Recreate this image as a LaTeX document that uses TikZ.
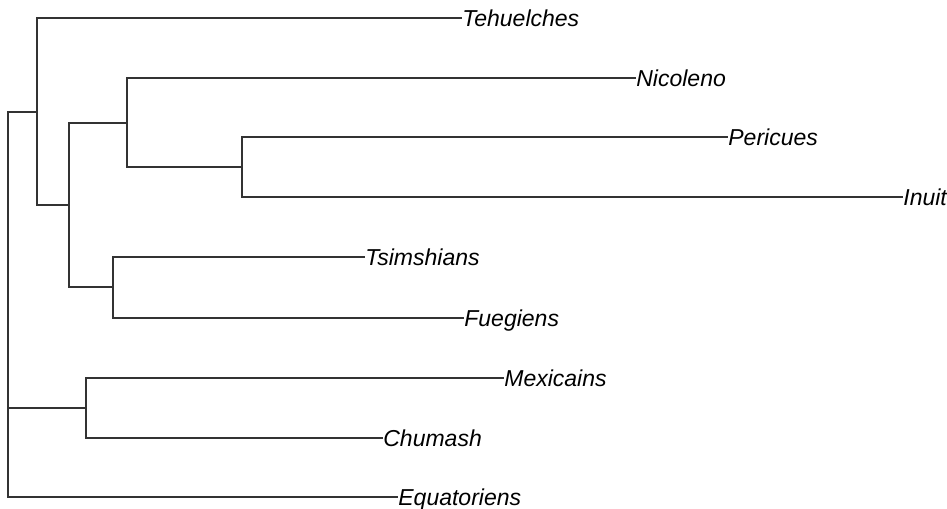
\documentclass[tikz,border=0pt]{standalone}
\usepackage{fontspec}
\setsansfont{Liberation Sans}
\usepackage{tikz}
\usetikzlibrary{positioning, calc}

\begin{document}
\begin{tikzpicture}[x=0.02cm,y=-0.02cm,
  branch/.style={line width=0.75pt,draw=black!80},
  leaf/.style={anchor=west,inner sep=0pt,text height=0.72em,text depth=0pt,
    yshift=-1.1pt,font=\sffamily\itshape\fontsize{13.1}{15}\selectfont}]

\useasboundingbox (0,0) rectangle (947,509);

% ==================== Nodi interni ====================
\coordinate (root) at (8,305);
\coordinate (top)  at (37,112);
\coordinate (mid)  at (69,205);
\coordinate (npi)  at (127,123);
\coordinate (pi)   at (242,167);
\coordinate (tf)   at (113,287);
\coordinate (mc)   at (86,408);

% ==================== Foglie ====================
\node[leaf] (tehu) at (462,18)  {Tehuelches};
\node[leaf] (nico) at (636,78)  {Nicoleno};
\node[leaf] (peri) at (728,137) {Pericues};
\node[leaf] (inui) at (903,197) {Inuit};
\node[leaf] (tsim) at (365,257) {Tsimshians};
\node[leaf] (fueg) at (464,318) {Fuegiens};
\node[leaf] (mexi) at (504,378) {Mexicains};
\node[leaf] (chum) at (383,438) {Chumash};
\node[leaf] (equa) at (398,497) {Equatoriens};

% ==================== Rami ====================
\draw[branch] (root) |- (top);
\draw[branch] (root) |- (mc);
\draw[branch] (root) |- ([yshift=1.1pt]equa.west);

\draw[branch] (top) |- ([yshift=1.1pt]tehu.west);
\draw[branch] (top) |- (mid);

\draw[branch] (mid) |- (npi);
\draw[branch] (mid) |- (tf);

\draw[branch] (npi) |- ([yshift=1.1pt]nico.west);
\draw[branch] (npi) |- (pi);

\draw[branch] (pi) |- ([yshift=1.1pt]peri.west);
\draw[branch] (pi) |- ([yshift=1.1pt]inui.west);

\draw[branch] (tf) |- ([yshift=1.1pt]tsim.west);
\draw[branch] (tf) |- ([yshift=1.1pt]fueg.west);

\draw[branch] (mc) |- ([yshift=1.1pt]mexi.west);
\draw[branch] (mc) |- ([yshift=1.1pt]chum.west);

\end{tikzpicture}
\end{document}
